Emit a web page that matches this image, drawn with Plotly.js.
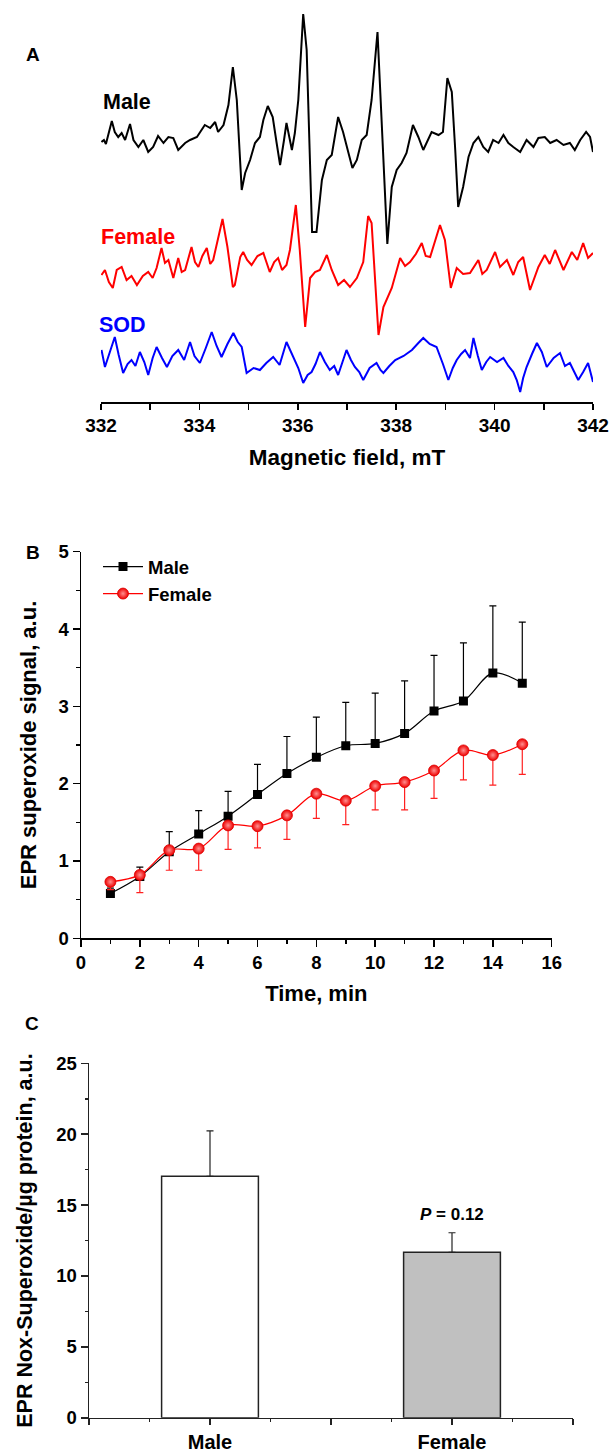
<!DOCTYPE html>
<html>
<head>
<meta charset="utf-8">
<script src="https://cdn.plot.ly/plotly-3.0.1.min.js"></script>
<style>html,body{margin:0;padding:0;background:#fff;}#chart{width:613px;height:1452px;}</style>
</head>
<body>
<div id="chart"></div>
<script>
// ---------- Panel A: EPR spectra (field in mT, signal in a.u. relative to each baseline) ----------
const fieldMale = [332.01,332.06,332.10,332.15,332.22,332.28,332.35,332.42,332.49,332.59,332.66,332.76,332.86,332.96,333.06,333.16,333.27,333.37,333.47,333.57,333.71,333.81,333.95,334.11,334.22,334.32,334.38,334.49,334.59,334.68,334.76,334.86,334.93,335.03,335.13,335.23,335.30,335.39,335.49,335.57,335.64,335.72,335.77,335.88,335.94,336.01,336.11,336.18,336.29,336.38,336.49,336.59,336.69,336.82,336.92,337.03,337.11,337.20,337.30,337.40,337.50,337.62,337.68,337.82,337.91,338.01,338.11,338.21,338.34,338.45,338.55,338.65,338.72,338.86,338.95,339.04,339.13,339.20,339.26,339.36,339.47,339.57,339.67,339.77,339.87,339.97,340.08,340.18,340.28,340.38,340.52,340.65,340.79,340.89,341.02,341.13,341.26,341.40,341.53,341.63,341.74,341.86,341.94,342.00];
const sigMale = [3,5,1,12,24,13,8,12,5,21,5,-2,5,-7,-2,9,2,8,7,-5,2,5,8,20,17,23,13,20,40,78,45,-45,-28,-15,2,8,25,39,28,2,-20,5,22,-5,12,45,131,95,-87,-87,-35,-15,-10,28,13,-8,-23,-15,5,10,45,113,45,-99,-42,-25,-18,-8,20,8,-5,5,13,10,13,67,53,-5,-62,-42,-12,2,8,-2,-7,5,2,10,2,-2,-7,5,-2,7,8,2,5,0,2,-5,5,13,8,-7];

const fieldFemale = [332.01,332.08,332.16,332.24,332.32,332.42,332.52,332.62,332.73,332.85,332.96,333.05,333.13,333.23,333.30,333.37,333.47,333.57,333.64,333.71,333.84,333.91,333.98,334.06,334.15,334.22,334.28,334.38,334.47,334.57,334.68,334.72,334.83,334.89,334.97,335.06,335.18,335.30,335.43,335.52,335.60,335.68,335.77,335.84,335.96,336.04,336.15,336.25,336.35,336.45,336.59,336.69,336.82,336.94,337.06,337.20,337.33,337.43,337.50,337.64,337.74,337.91,338.08,338.18,338.28,338.40,338.52,338.60,338.69,338.89,338.99,339.11,339.23,339.36,339.50,339.67,339.75,339.84,340.01,340.11,340.25,340.38,340.48,340.58,340.72,340.89,341.02,341.12,341.23,341.40,341.57,341.68,341.80,341.90,342.00];
const sigFemale = [-7,-2,-14,-20,-2,1,-12,-8,-17,-8,-4,-10,0,20,5,8,-10,10,-4,-2,21,6,1,12,20,4,8,30,49,21,-19,-17,11,16,8,3,12,15,-4,6,10,-2,3,18,63,18,-59,-10,-4,-2,13,-2,-17,-12,-19,-10,6,52,45,-67,-39,-20,10,2,6,14,25,12,11,43,28,-20,0,-6,-5,8,-6,-2,16,1,8,-7,6,11,-22,1,13,4,18,-2,16,8,25,10,15];

const fieldSOD = [332.01,332.08,332.18,332.28,332.36,332.45,332.54,332.62,332.70,332.79,332.88,332.96,333.05,333.13,333.24,333.34,333.45,333.57,333.69,333.81,333.90,334.01,334.13,334.25,334.35,334.45,334.57,334.69,334.78,334.86,334.96,335.10,335.23,335.36,335.50,335.63,335.77,335.91,336.01,336.11,336.20,336.28,336.36,336.45,336.55,336.65,336.74,336.82,336.90,336.99,337.08,337.16,337.25,337.33,337.46,337.60,337.68,337.74,337.86,337.98,338.15,338.32,338.45,338.55,338.68,338.82,338.95,339.06,339.15,339.23,339.32,339.40,339.50,339.57,339.66,339.74,339.83,339.91,340.05,340.18,340.28,340.38,340.45,340.52,340.58,340.65,340.76,340.86,340.96,341.06,341.20,341.33,341.43,341.53,341.62,341.70,341.80,341.90,342.00];
const sigSOD = [10,-7,8,23,5,-13,-4,0,-6,8,-2,-15,2,13,2,-7,4,10,0,18,4,-3,12,28,14,3,16,27,18,13,-13,-8,-10,-3,3,-5,18,3,-8,-23,-15,-12,-4,8,-2,-10,-6,-15,-4,10,0,-7,-12,-20,-8,-3,-10,-13,-6,0,4,10,17,22,16,13,-4,-20,-8,0,6,10,2,22,4,-10,-2,3,-2,2,-6,-12,-20,-32,-18,-7,6,17,8,-7,2,7,-6,-3,-12,-20,-12,-3,-22];

const fieldTicks = [332,334,336,338,340,342];

// ---------- Panel B: time course ----------
const timeMin = [1,2,3,4,5,6,7,8,9,10,11,12,13,14,15];
const maleSignal = [0.58,0.80,1.12,1.35,1.58,1.86,2.13,2.34,2.49,2.52,2.65,2.94,3.07,3.43,3.30];
const maleSEM = [0.07,0.12,0.26,0.30,0.32,0.39,0.48,0.52,0.56,0.65,0.68,0.72,0.75,0.87,0.79];
const femaleSignal = [0.73,0.82,1.14,1.16,1.46,1.45,1.59,1.87,1.78,1.97,2.02,2.17,2.43,2.37,2.51];
const femaleSEM = [0.10,0.23,0.26,0.28,0.31,0.28,0.31,0.32,0.31,0.31,0.36,0.36,0.38,0.39,0.39];

// ---------- Panel C: bar chart ----------
const groups = ['Male','Female'];
const noxSuperoxide = [17.03, 11.67];
const noxSEM = [3.2, 1.38];
const pLabel = '<i>P</i> = 0.12';

// ---------- layout constants (vertical stacking of spectra) ----------
const MALE_BASE = 257, FEMALE_BASE = 134, SOD_BASE = 42;
const FONT = 'Liberation Sans, Arial, Helvetica, sans-serif';
const W = 613, H = 1452;
const px = v => v / W, py = v => 1 - v / H;

const traces = [
  {x: fieldMale, y: sigMale.map(v => v + MALE_BASE), xaxis:'x', yaxis:'y', mode:'lines',
   line:{color:'#000000', width:2}, showlegend:false, hoverinfo:'skip'},
  {x: fieldFemale, y: sigFemale.map(v => v + FEMALE_BASE), xaxis:'x', yaxis:'y', mode:'lines',
   line:{color:'#ff0000', width:2}, showlegend:false, hoverinfo:'skip'},
  {x: fieldSOD, y: sigSOD.map(v => v + SOD_BASE), xaxis:'x', yaxis:'y', mode:'lines',
   line:{color:'#0000ff', width:2}, showlegend:false, hoverinfo:'skip'},

  {x: timeMin, y: maleSignal, name:'Male', xaxis:'x2', yaxis:'y2', mode:'lines+markers',
   line:{color:'#000000', width:1.2, shape:'spline', smoothing:1},
   marker:{symbol:'square', size:9, color:'#000000'},
   error_y:{type:'data', symmetric:false, array:maleSEM, arrayminus:maleSEM.map(()=>0),
            color:'#000000', thickness:1.2, width:3.5}},
  {x: timeMin, y: femaleSignal, name:'Female', xaxis:'x2', yaxis:'y2', mode:'lines+markers',
   line:{color:'#ff0000', width:1.2, shape:'spline', smoothing:1},
   marker:{symbol:'circle', size:11, color:'#ee0000', line:{color:'#dd0000', width:0.8},
           gradient:{type:'radial', color:'#ff9090'}},
   error_y:{type:'data', symmetric:false, array:femaleSEM.map(()=>0), arrayminus:femaleSEM,
            color:'#ff2020', thickness:1.2, width:3.5}},

  {type:'bar', x: groups.map((g,i)=>i+1), y: noxSuperoxide, xaxis:'x3', yaxis:'y3', width:0.4,
   marker:{color:['#ffffff','#c0c0c0'], line:{color:'#222222', width:1.5}},
   error_y:{type:'data', symmetric:false, array:noxSEM, arrayminus:[0,0], color:'#222222', thickness:1.2, width:3.5},
   showlegend:false, hoverinfo:'skip'}
];

const tickFont = s => ({family:FONT, size:s, color:'#000', weight:700});
const titleFont = s => ({family:FONT, size:s, color:'#000', weight:700});
const label = (t, x, y, color, size, xa) => ({text:t, xref:'paper', yref:'paper', x:px(x), y:py(y),
  xanchor:xa || 'center', yanchor:'middle', showarrow:false, font:{family:FONT, size:size, color:color, weight:700}});

const layout = {
  width: W, height: H,
  margin:{l:0, r:0, t:0, b:0},
  paper_bgcolor:'#ffffff', plot_bgcolor:'rgba(0,0,0,0)',
  font:{family:FONT, color:'#000'},
  showlegend:true,
  legend:{x:px(98), y:py(548), xanchor:'left', yanchor:'top', bgcolor:'rgba(0,0,0,0)',
          font:tickFont(18.5), itemwidth:40, tracegroupgap:0},
  // Panel A
  xaxis:{domain:[px(101), px(593)], range:[332,342], anchor:'y',
         showline:true, linecolor:'#000', linewidth:1.5, mirror:false,
         ticks:'outside', ticklen:6, tickwidth:1.5, tickcolor:'#000',
         tickvals:fieldTicks, ticktext:fieldTicks.map(String), tickfont:tickFont(19),
         minor:{dtick:1, tick0:332, ticks:'outside', ticklen:6, tickwidth:1.5, tickcolor:'#000', showgrid:false},
         showgrid:false, zeroline:false,
         title:{text:'Magnetic field, mT', font:titleFont(22.5), standoff:14}},
  yaxis:{domain:[py(402), 1], range:[0,402], anchor:'x', visible:false, showgrid:false, zeroline:false},
  // Panel B
  xaxis2:{domain:[px(81), px(551.7)], range:[0,16], anchor:'y2',
          showline:true, linecolor:'#000', linewidth:1.5,
          ticks:'outside', ticklen:7, tickwidth:1.5, tickcolor:'#000',
          tick0:0, dtick:2, tickfont:tickFont(18.5),
          minor:{dtick:1, ticks:'outside', ticklen:4, tickwidth:1.5, tickcolor:'#000', showgrid:false},
          showgrid:false, zeroline:false,
          title:{text:'Time, min', font:titleFont(22), standoff:13}},
  yaxis2:{domain:[py(938.3), py(551.7)], range:[0,5], anchor:'x2',
          showline:true, linecolor:'#000', linewidth:1.5,
          ticks:'outside', ticklen:7, tickwidth:1.5, tickcolor:'#000',
          tick0:0, dtick:1, tickfont:tickFont(18.5),
          minor:{dtick:0.5, ticks:'outside', ticklen:4, tickwidth:1.5, tickcolor:'#000', showgrid:false},
          showgrid:false, zeroline:false,
          title:{text:'EPR superoxide signal, a.u.', font:titleFont(22), standoff:16}},
  // Panel C
  xaxis3:{domain:[px(89), px(573)], range:[0.5,2.5], anchor:'y3',
          showline:true, linecolor:'#222', linewidth:1.5,
          ticks:'outside', ticklen:6, tickwidth:1.5, tickcolor:'#222',
          tickvals:[0.5,1,1.5,2,2.5], ticktext:['', groups[0], '', groups[1], ''], tickfont:tickFont(20),
          minor:{dtick:0.25, tick0:0.5, ticks:'outside', ticklen:3, tickwidth:1.5, tickcolor:'#222', showgrid:false},
          showgrid:false, zeroline:false},
  yaxis3:{domain:[py(1417.8), py(1063.3)], range:[0,25], anchor:'x3',
          showline:true, linecolor:'#222', linewidth:1.5,
          ticks:'outside', ticklen:7, tickwidth:1.5, tickcolor:'#222',
          tick0:0, dtick:5, tickfont:tickFont(18.5),
          minor:{dtick:2.5, ticks:'outside', ticklen:3, tickwidth:1.5, tickcolor:'#222', showgrid:false},
          showgrid:false, zeroline:false,
          title:{text:'EPR Nox-Superoxide/µg protein, a.u.', font:titleFont(21.5), standoff:17}},
  annotations:[
    label('A', 33, 55, '#000', 19),
    label('B', 33, 552, '#000', 19),
    label('C', 32, 1023, '#000', 19),
    label('Male', 101, 102, '#000000', 21.5, 'left'),
    label('Female', 99, 237, '#ff0000', 21.5, 'left'),
    label('SOD', 97, 325, '#0000ff', 21.5, 'left'),
    {text:pLabel, xref:'x3', yref:'y3', x:2, y:noxSuperoxide[1] + noxSEM[1], yshift:18, yanchor:'middle', showarrow:false,
     font:{family:FONT, size:17, color:'#000', weight:700}}
  ]
};

Plotly.newPlot('chart', traces, layout, {staticPlot:true, displayModeBar:false});
</script>
</body>
</html>
